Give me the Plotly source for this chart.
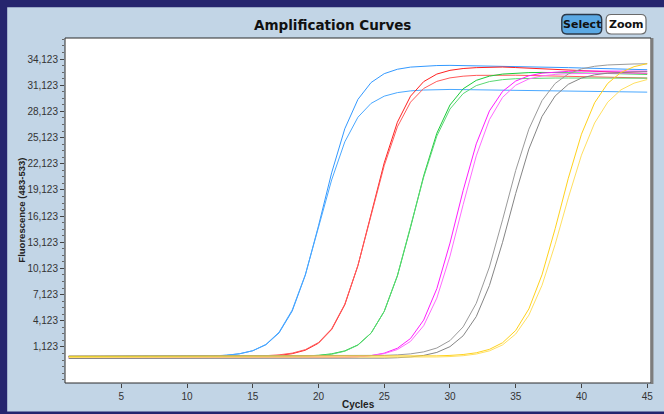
import plotly.graph_objects as go

# ---------------- data ----------------
cycles = [1, 2, 3, 4, 5, 6, 7, 8, 9, 10, 11, 12, 13, 14, 15, 16, 17, 18, 19, 20,
          21, 22, 23, 24, 25, 26, 27, 28, 29, 30, 31, 32, 33, 34, 35, 36, 37, 38, 39, 40,
          41, 42, 43, 44, 45]

blue_a = [30, 30, 30, 31, 31, 32, 32, 33, 36, 46, 64, 102, 181, 346, 685, 1376, 2732, 5237, 9358, 15007,
          21079, 26132, 29502, 31433, 32448, 32954, 33202, 33321, 33378, 33400, 33380, 33350, 33320, 33290, 33260,
          33230, 33200, 33170, 33140, 33100, 33060, 33020, 32980, 32940, 32900]
blue_b = [10, 10, 11, 11, 12, 12, 13, 14, 18, 27, 46, 86, 168, 341, 696, 1413, 2812, 5352, 9414, 14768,
          20263, 24631, 27457, 29045, 29869, 30277, 30476, 30572, 30620, 30640, 30620, 30600, 30580, 30560, 30540,
          30520, 30500, 30480, 30460, 30440, 30420, 30400, 30380, 30350, 30330]
red_a = [-20, -20, -21, -20, -19, -20, -20, -21, -20, -20, -19, -18, -10, 0, 21, 65, 158, 352, 751, 1557,
         3125, 5954, 10446, 16296, 22225, 26883, 29871, 31538, 32402, 32830, 33038, 33138, 33190, 33210, 33150,
         33080, 33010, 32940, 32870, 32800, 32730, 32660, 32590, 32520, 32450]
red_b = [40, 40, 41, 40, 39, 40, 40, 41, 42, 43, 45, 47, 50, 60, 81, 126, 220, 415, 816, 1627,
         3199, 6024, 10470, 16190, 21911, 26355, 29182, 30753, 31564, 31965, 32160, 32254, 32280, 32300, 32270,
         32240, 32210, 32180, 32150, 32120, 32090, 32060, 32030, 31990, 31950]
green_a = [20, 20, 21, 21, 20, 20, 21, 20, 20, 21, 21, 22, 22, 23, 24, 28, 36, 54, 92, 171,
           335, 674, 1362, 2714, 5198, 9271, 14817, 20737, 25618, 28858, 30712, 31681, 32166, 32402, 32516,
           32570, 32590, 32580, 32560, 32530, 32500, 32470, 32440, 32410, 32380]
green_b = [-30, -30, -31, -30, -30, -29, -30, -31, -30, -30, -29, -28, -27, -26, -24, -20, -13, 5, 44, 124,
           291, 635, 1335, 2705, 5212, 9294, 14785, 20579, 25295, 28396, 30161, 31081, 31540, 31764, 31871,
           31920, 31940, 31950, 31950, 31950, 31950, 31950, 31940, 31940, 31930]
magenta_a = [-120, -120, -121, -120, -119, -120, -120, -121, -120, -120, -119, -120, -120, -119, -120, -120, -119, -117, -114, -107,
             -92, -62, 2, 135, 411, 974, 2093, 4203, 7804, 13024, 19047, 24403, 28174, 30411, 31605,
             32210, 32506, 32648, 32717, 32750, 32760, 32760, 32750, 32740, 32730]
magenta_b = [-80, -80, -79, -80, -81, -80, -80, -79, -80, -80, -81, -80, -80, -79, -79, -78, -77, -76, -74, -69,
             -57, -32, 21, 130, 358, 826, 1763, 3559, 6720, 11526, 17426, 23024, 27180, 29733, 31129,
             31842, 32193, 32363, 32445, 32480, 32500, 32510, 32510, 32500, 32500]
gray_a = [100, 100, 101, 100, 99, 100, 100, 101, 100, 100, 99, 100, 100, 101, 100, 100, 101, 101, 102, 103,
          105, 108, 115, 130, 158, 217, 332, 560, 1003, 1853, 3421, 6127, 10287, 15694, 21359,
          26089, 29359, 31329, 32420, 32997, 33294, 33446, 33523, 33561, 33581]
gray_b = [-200, -200, -201, -200, -199, -200, -200, -201, -200, -200, -199, -200, -200, -201, -200, -200, -199, -200, -200, -199,
          -198, -196, -189, -177, -155, -110, -22, 153, 496, 1158, 2401, 4605, 8166, 13115, 18724,
          23807, 27545, 29892, 31229, 31946, 32317, 32507, 32603, 32652, 32676]
yellow_a = [50, 50, 51, 50, 49, 50, 50, 51, 50, 50, 49, 50, 50, 51, 50, 50, 49, 50, 50, 51,
            50, 50, 51, 52, 54, 57, 63, 76, 102, 153, 255, 455, 849, 1606, 3016,
            5488, 9396, 14674, 20458, 25506, 29112, 31337, 32586, 33252, 33596]
yellow_b = [-80, -80, -81, -80, -79, -80, -80, -81, -80, -80, -79, -80, -80, -81, -80, -80, -79, -80, -80, -81,
            -80, -79, -78, -77, -76, -73, -66, -52, -26, 24, 122, 312, 675, 1357, 2607,
            4770, 8189, 12882, 18212, 23105, 26794, 29187, 30589, 31361, 31773]

y_ticks = [1123, 4123, 7123, 10123, 13123, 16123, 19123, 22123, 25123, 28123, 31123, 34123]
y_tick_labels = ["1,123", "4,123", "7,123", "10,123", "13,123", "16,123", "19,123", "22,123",
                 "25,123", "28,123", "31,123", "34,123"]
x_ticks = [5, 10, 15, 20, 25, 30, 35, 40, 45]

series = [
    ("Blue 1", blue_a, "#3399ff"),
    ("Blue 2", blue_b, "#4aa8ff"),
    ("Red 1", red_a, "#ff2020"),
    ("Red 2", red_b, "#ff5a5a"),
    ("Green 1", green_a, "#1ccc3a"),
    ("Green 2", green_b, "#5ad873"),
    ("Magenta 1", magenta_a, "#ff1cff"),
    ("Magenta 2", magenta_b, "#ff6aff"),
    ("Gray 1", gray_a, "#9a9a9a"),
    ("Gray 2", gray_b, "#858585"),
    ("Yellow 1", yellow_a, "#ffd21c"),
    ("Yellow 2", yellow_b, "#ffe060"),
]

# ---------------- figure ----------------
W, H = 664, 414
L, R, T, B = 65, 11, 38, 31
PW, PH = W - L - R, H - T - B


def px(x):
    return (x - L) / PW


def py(y):
    return (H - B - y) / PH


def rrect(x0, y0, x1, y1, r):
    return (f"M {px(x0 + r)} {py(y0)} L {px(x1 - r)} {py(y0)} "
            f"Q {px(x1)} {py(y0)} {px(x1)} {py(y0 + r)} L {px(x1)} {py(y1 - r)} "
            f"Q {px(x1)} {py(y1)} {px(x1 - r)} {py(y1)} L {px(x0 + r)} {py(y1)} "
            f"Q {px(x0)} {py(y1)} {px(x0)} {py(y1 - r)} L {px(x0)} {py(y0 + r)} "
            f"Q {px(x0)} {py(y0)} {px(x0 + r)} {py(y0)} Z")


fig = go.Figure()
for name, vals, col in series:
    fig.add_trace(go.Scatter(x=cycles, y=vals, mode="lines", name=name,
                             line=dict(color=col, width=1), hoverinfo="skip"))

shapes = [
    # light blue panel
    dict(type="rect", xref="paper", yref="paper", x0=px(7), x1=px(W + 5), y0=py(411.5), y1=py(7.3),
         fillcolor="#c2d5e6", line=dict(width=0), layer="below"),
    # white plot area with border
    dict(type="rect", xref="paper", yref="paper", x0=0, x1=1, y0=0, y1=1,
         fillcolor="white", line=dict(color="#2a2a2a", width=1), layer="below"),
    # right shadow edge
    dict(type="line", xref="paper", yref="paper", x0=px(654.2), x1=px(654.2), y0=py(384), y1=py(38),
         line=dict(color="#7d7d7d", width=2.5), layer="above"),
    # buttons
    dict(type="path", xref="paper", yref="paper", path=rrect(563.5, 14.5, 603.5, 34, 5),
         fillcolor="#5ba9e4", line=dict(color="#2b3848", width=1.4), layer="above"),
    dict(type="path", xref="paper", yref="paper", path=rrect(608, 14.5, 648, 34, 5),
         fillcolor="white", line=dict(color="#6a6a6a", width=1.2), layer="above"),
]

annotations = [
    dict(text="<b>Amplification Curves</b>", x=px(333), y=py(24.5), xref="paper", yref="paper",
         xanchor="center", yanchor="middle", showarrow=False,
         font=dict(family="DejaVu Sans", size=13.5, color="#111111")),
    dict(text="<b>Select</b>", x=px(583.5), y=py(24.3), xref="paper", yref="paper",
         xanchor="center", yanchor="middle", showarrow=False,
         font=dict(family="DejaVu Sans", size=11, color="#111111")),
    dict(text="<b>Zoom</b>", x=px(628), y=py(24.3), xref="paper", yref="paper",
         xanchor="center", yanchor="middle", showarrow=False,
         font=dict(family="DejaVu Sans", size=11, color="#111111")),
    dict(text="<b>Cycles</b>", x=px(359), y=py(404), xref="paper", yref="paper",
         xanchor="center", yanchor="middle", showarrow=False,
         font=dict(family="Liberation Sans", size=10, color="#222222")),
    dict(text="<b>Fluorescence (483-533)</b>", x=px(20.5), y=py(210), xref="paper", yref="paper",
         xanchor="center", yanchor="middle", showarrow=False, textangle=-90,
         font=dict(family="Liberation Sans", size=9.5, color="#222222")),
]

fig.update_layout(
    width=W, height=H,
    margin=dict(l=L, r=R, t=T, b=B, pad=0),
    paper_bgcolor="#26256e",
    plot_bgcolor="white",
    showlegend=False,
    shapes=shapes,
    annotations=annotations,
    xaxis=dict(range=[0.72, 45.29], tickmode="array", tickvals=x_ticks,
               ticks="outside", ticklen=4, tickcolor="#444444", tickwidth=1,
               tickfont=dict(family="Liberation Sans", size=10, color="#333333"),
               showgrid=False, zeroline=False, showline=False, fixedrange=True),
    yaxis=dict(range=[-3008, 36537], tickmode="array", tickvals=y_ticks, ticktext=y_tick_labels,
               ticks="outside", ticklen=4, tickcolor="#444444", tickwidth=1,
               minor=dict(tick0=y_ticks[0], dtick=(y_ticks[1] - y_ticks[0]) / 4, ticks="outside",
                          ticklen=2, tickcolor="#666666", showgrid=False),
               tickfont=dict(family="Liberation Sans", size=10, color="#333333"),
               showgrid=False, zeroline=False, showline=False, fixedrange=True),
)

fig.write_html("out.html",
               config={"displayModeBar": False, "staticPlot": True},
               post_script="document.body.style.margin='0';document.body.style.padding='0';"
                           "document.body.style.overflow='hidden';")
